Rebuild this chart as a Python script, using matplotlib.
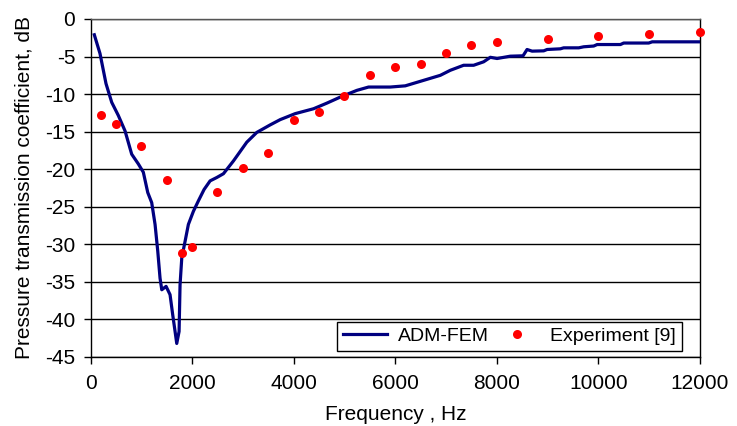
import matplotlib
matplotlib.use("Agg")
import matplotlib.pyplot as plt

# ADM-FEM prediction (frequency in Hz, coefficient in dB)
fem_freq = [75, 187, 305, 418, 548, 680, 811, 942, 1040, 1127, 1205, 1271, 1324,
            1369, 1403, 1488, 1566, 1619, 1665, 1698, 1744, 1763, 1797, 1862, 1927,
            2026, 2125, 2236, 2355, 2487, 2617, 2814, 3077, 3274, 3537, 3734, 4030,
            4391, 4654, 4949, 5245, 5474, 5901, 6197, 6557, 6887, 7084, 7346, 7543,
            7740, 7872, 8005, 8266, 8516, 8595, 8694, 8923, 8989, 9251, 9316, 9612,
            9710, 9907, 9975, 10433, 10498, 10990, 11059, 12000]
fem_db = [-2.1, -4.6, -8.6, -11.1, -12.85, -14.9, -18.0, -19.3, -20.4, -23.1, -24.45,
          -27.35, -30.9, -34.5, -36.05, -35.6, -36.7, -39.4, -41.6, -43.2, -41.6, -35.4,
          -31.8, -29.6, -27.35, -25.6, -24.2, -22.7, -21.55, -21.1, -20.6, -18.9, -16.4,
          -15.1, -14.1, -13.4, -12.6, -11.95, -11.2, -10.3, -9.5, -9.06, -9.06, -8.9,
          -8.17, -7.5, -6.83, -6.16, -6.16, -5.7, -5.1, -5.26, -4.95, -4.9, -4.06,
          -4.28, -4.24, -4.06, -3.97, -3.84, -3.84, -3.7, -3.6, -3.4, -3.4, -3.2, -3.2,
          -3.04, -3.04]

# Measured values
exp_freq = [200, 500, 1000, 1500, 1800, 2000, 2500, 3000, 3500, 4000, 4500, 5000,
            5500, 6000, 6500, 7000, 7500, 8000, 9000, 10000, 11000, 12000]
exp_db = [-12.8, -14.0, -16.9, -21.5, -31.1, -30.3, -23.0, -19.8, -17.8, -13.5, -12.4,
          -10.2, -7.5, -6.4, -6.0, -4.5, -3.5, -3.1, -2.7, -2.3, -2.05, -1.7]

x_ticks = [0, 2000, 4000, 6000, 8000, 10000, 12000]
y_ticks = [0, -5, -10, -15, -20, -25, -30, -35, -40, -45]

plt.rcParams['font.family'] = ['Liberation Sans', 'DejaVu Sans']
plt.rcParams['font.size'] = 15

fig = plt.figure(figsize=(7.37, 4.26), dpi=100)
ax = fig.add_axes([0.1228, 0.162, 0.8270, 0.7934])

ax.plot(fem_freq, fem_db, color='#000080', lw=2.3, label='ADM-FEM', zorder=3)
ax.plot(exp_freq, exp_db, 'o', color='#ff0000', ms=6.5, mec='none',
        label='Experiment [9]', zorder=4, clip_on=False)

ax.set_xlim(0, 12000)
ax.set_ylim(-45, 0)
ax.set_xticks(x_ticks)
ax.set_yticks(y_ticks)
ax.set_xticklabels([str(v) for v in x_ticks])
ax.set_yticklabels([str(v) for v in y_ticks])
ax.yaxis.grid(True, color='#000000', lw=1.0)
ax.set_axisbelow(True)
ax.tick_params(direction='out', length=5, width=1, color='black')
ax.tick_params(axis='x', pad=7)
ax.tick_params(axis='y', pad=6)
for s in ax.spines.values():
    s.set_color('black')
    s.set_linewidth(1.0)
ax.spines['top'].set_color('#555555')

ax.set_xlabel('Frequency , Hz', labelpad=9)
ax.set_ylabel('Pressure transmission coefficient, dB', labelpad=8)

leg = ax.legend(loc='lower right', bbox_to_anchor=(0.9705, 0.018), ncol=2,
                frameon=True, fancybox=False, edgecolor='black', framealpha=1,
                handlelength=2.3, columnspacing=0.3, borderpad=0.3,
                borderaxespad=0.0, handletextpad=0.55, fontsize=14)
leg.get_frame().set_linewidth(1.0)

fig.savefig('out.png', dpi=100)
